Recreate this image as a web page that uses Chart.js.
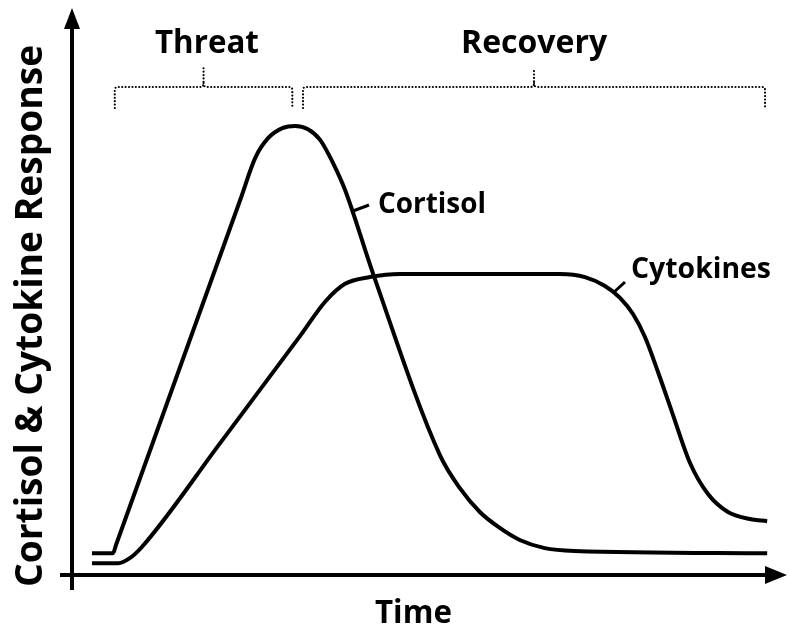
<!DOCTYPE html>
<html>
<head>
<meta charset="utf-8">
<script src="https://cdn.jsdelivr.net/npm/chart.js@4.4.1/dist/chart.umd.min.js"></script>
<style>
  html, body { margin: 0; padding: 0; background: #fff; }
  #wrap { width: 790px; height: 628px; }
</style>
</head>
<body>
<div id="wrap"><canvas id="chart"></canvas></div>
<script>
// time (0-100) and response (0-100)
const cortisolTime = [2.8, 5.75, 6.17, 23.6, 25.7, 27.5, 29.5, 31.3, 33.1, 34.8, 36.6, 38.3, 42.2, 51.6, 54.4, 57.2, 60.0, 62.8, 66.3, 70.5, 97.5];
const cortisolLevel = [3.9, 3.9, 5.36, 67.0, 74.5, 78.0, 79.8, 80.2, 79.6, 77.7, 73.6, 68.75, 53.9, 21.4, 15.5, 11.25, 8.4, 6.25, 4.8, 4.3, 3.9];

const cytokineTime = [2.8, 6.5, 8.1, 9.8, 20.8, 32.0, 35.5, 38.3, 41.8, 46.0, 68.4, 71.95, 74.75, 76.86, 78.68, 80.36, 82.19, 84.15, 86.68, 89.2, 92.0, 95.09, 97.5];
const cytokineLevel = [2.1, 2.1, 3.0, 5.0, 23.6, 42.7, 48.8, 52.0, 53.2, 53.75, 53.75, 53.2, 51.6, 49.5, 46.6, 42.5, 36.25, 29.1, 20.0, 14.46, 11.25, 10.0, 9.6];

// phase brackets: [start, end] in time units
const phaseNames = ['Threat', 'Recovery'];
const phaseSpans = [[6.0, 30.9], [32.4, 97.2]];

const curveLabels = ['Cortisol', 'Cytokines'];

const toPoints = (xs, ys) => xs.map((x, i) => ({ x: x, y: ys[i] }));

const FONT = '"Open Sans", Lato, sans-serif';

// draw bold text sized so it spans the given width
function fitText(ctx, text, x, y, width, align) {
    ctx.font = 'bold 40px ' + FONT;
    const size = 40 * width / ctx.measureText(text).width;
    ctx.font = 'bold ' + size.toFixed(1) + 'px ' + FONT;
    ctx.textAlign = align || 'left';
    ctx.fillText(text, x, y);
}

// axes with arrows, bracket lines and text
const schematic = {
    id: 'schematic',
    afterDraw(chart) {
        const ctx = chart.ctx;
        const xs = chart.scales.x, ys = chart.scales.y;
        const x0 = xs.getPixelForValue(0), y0 = ys.getPixelForValue(0);
        ctx.save();
        ctx.fillStyle = '#000';
        ctx.strokeStyle = '#000';
        ctx.textBaseline = 'alphabetic';

        // y axis
        ctx.lineWidth = 4;
        ctx.beginPath();
        ctx.moveTo(x0, y0 + 15);
        ctx.lineTo(x0, 26);
        ctx.stroke();
        ctx.beginPath();
        ctx.moveTo(x0, 8);
        ctx.lineTo(x0 - 8, 29);
        ctx.lineTo(x0 + 8, 29);
        ctx.closePath();
        ctx.fill();

        // x axis
        ctx.beginPath();
        ctx.moveTo(x0 - 12, y0);
        ctx.lineTo(768, y0);
        ctx.stroke();
        ctx.beginPath();
        ctx.moveTo(787, y0);
        ctx.lineTo(765, y0 - 9);
        ctx.lineTo(765, y0 + 9);
        ctx.closePath();
        ctx.fill();

        // dotted brackets
        ctx.lineWidth = 2.2;
        ctx.lineCap = 'round';
        ctx.setLineDash([0, 3.4]);
        const top = 87, bottom = 108, tickTop = 68;
        phaseSpans.forEach((span) => {
            const a = xs.getPixelForValue(span[0]);
            const b = xs.getPixelForValue(span[1]);
            const m = (a + b) / 2;
            ctx.beginPath();
            ctx.moveTo(a, bottom);
            ctx.lineTo(a, top + 3);
            ctx.quadraticCurveTo(a, top, a + 3, top);
            ctx.lineTo(m - 3, top);
            ctx.quadraticCurveTo(m, top, m, top - 4);
            ctx.lineTo(m, tickTop);
            ctx.moveTo(m, top - 4);
            ctx.quadraticCurveTo(m, top, m + 3, top);
            ctx.lineTo(b - 3, top);
            ctx.quadraticCurveTo(b, top, b, top + 3);
            ctx.lineTo(b, bottom);
            ctx.stroke();
        });
        ctx.setLineDash([]);
        fitText(ctx, phaseNames[0], 155, 53, 104);
        fitText(ctx, phaseNames[1], 461, 53, 146);

        // leader ticks and curve labels
        ctx.lineWidth = 3;
        ctx.lineCap = 'butt';
        ctx.beginPath();
        ctx.moveTo(353, 211);
        ctx.lineTo(369, 205);
        ctx.moveTo(613, 293);
        ctx.lineTo(625, 282);
        ctx.stroke();

        fitText(ctx, curveLabels[0], 378, 213, 108);
        fitText(ctx, curveLabels[1], 631, 278, 140);

        // axis titles
        fitText(ctx, 'Time', 375, 623, 77);

        ctx.translate(42, 587);
        ctx.rotate(-Math.PI / 2);
        fitText(ctx, 'Cortisol & Cytokine Response', 0, 0, 542);
        ctx.restore();
    }
};

new Chart(document.getElementById('chart').getContext('2d'), {
    type: 'line',
    data: {
        datasets: [
            {
                label: 'Cortisol',
                data: toPoints(cortisolTime, cortisolLevel),
                borderColor: '#000',
                borderWidth: 4,
                pointRadius: 0,
                cubicInterpolationMode: 'monotone',
                fill: false
            },
            {
                label: 'Cytokines',
                data: toPoints(cytokineTime, cytokineLevel),
                borderColor: '#000',
                borderWidth: 4,
                pointRadius: 0,
                cubicInterpolationMode: 'monotone',
                fill: false
            }
        ]
    },
    options: {
        responsive: true,
        maintainAspectRatio: false,
        animation: false,
        layout: { padding: { left: 72, right: 5, top: 15, bottom: 53 } },
        plugins: {
            legend: { display: false },
            tooltip: { enabled: false }
        },
        scales: {
            x: { type: 'linear', min: 0, max: 100, display: false },
            y: { type: 'linear', min: 0, max: 100, display: false }
        }
    },
    plugins: [schematic]
});
</script>
</body>
</html>
